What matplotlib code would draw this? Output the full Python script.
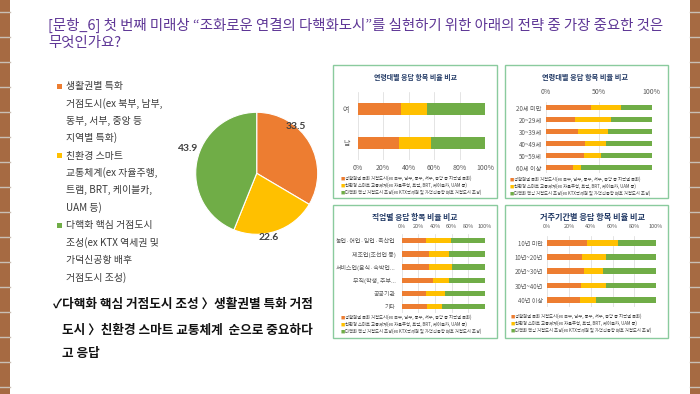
import numpy as np
import matplotlib
matplotlib.use('Agg')
import matplotlib.pyplot as plt
from matplotlib.patches import Rectangle

plt.rcParams['font.family'] = ['Noto Sans CJK KR', 'DejaVu Sans']

# ---------------- data ----------------
pie_values = [33.5, 22.6, 43.9]
pie_labels = ['33.5', '22.6', '43.9']

series_names = [
    '생활권별 특화 거점도시(ex 북부, 남부, 동부, 서부, 중앙 등 지역별 특화)',
    '친환경 스마트 교통체계(ex 자율주행, 트램, BRT, 케이블카, UAM 등)',
    '다핵화 핵심 거점도시 조성(ex KTX역세권 및 가덕신공항 배후 거점도시 조성)',
]
left_legend_lines = [
    ['생활권별 특화', '거점도시(ex 북부, 남부,', '동부, 서부, 중앙 등', '지역별 특화)'],
    ['친환경 스마트', '교통체계(ex 자율주행,', '트램, BRT, 케이블카,', 'UAM 등)'],
    ['다핵화 핵심 거점도시', '조성(ex KTX 역세권 및', '가덕신공항 배후', '거점도시 조성)'],
]

gender_cats = ['여', '남']
gender_a = [33.8, 32.5]
gender_b = [20.4, 25.1]
gender_c = [45.8, 42.4]

age_cats = ['20세 미만', '20~29세', '30~39세', '40~49세', '50~59세', '60세 이상']
age_a = [42.8, 27.4, 30.5, 37.0, 36.0, 25.8]
age_b = [28.6, 34.6, 28.0, 19.6, 16.0, 7.5]
age_c = [28.6, 38.0, 41.5, 43.4, 48.0, 66.7]

job_cats = ['농업·어업·임업·축산업', '제조업(조선업 등)', '서비스업(음식·숙박업...',
            '무직(학생, 주부...', '공공기관', '기타']
job_a = [29.2, 33.2, 33.2, 37.2, 29.2, 30.0]
job_b = [29.6, 24.0, 26.8, 19.6, 22.8, 18.8]
job_c = [41.2, 42.8, 40.0, 43.2, 48.0, 51.2]

res_cats = ['10년 미만', '10년~20년', '20년~30년', '30년~40년', '40년 이상']
res_a = [36.2, 31.9, 33.7, 31.3, 30.0]
res_b = [28.5, 22.4, 17.8, 22.4, 14.5]
res_c = [35.3, 45.7, 48.5, 46.3, 55.5]

title_lines = ['[문항_6] 첫 번째 미래상 “조화로운 연결의 다핵화도시”를 실현하기 위한 아래의 전략 중 가장 중요한 것은',
               '무엇인가요?']
summary_lines = ['✓다핵화 핵심 거점도시 조성 〉생활권별 특화 거점',
                 '도시 〉친환경 스마트 교통체계  순으로 중요하다',
                 '고 응답']

# ---------------- style ----------------
ORANGE, YELLOW, GREEN = '#ED7D31', '#FFC000', '#70AD47'
COLORS = [ORANGE, YELLOW, GREEN]
PANEL_EDGE = '#8ACB9E'
TITLE_BLUE = '#203864'
GRAY = '#595959'

W, H = 700, 394
fig = plt.figure(figsize=(7.0, 3.94), dpi=100)
fig.patch.set_facecolor('white')


def box(x0, y0, x1, y1):
    return [x0 / W, 1 - y1 / H, (x1 - x0) / W, (y1 - y0) / H]


def ftext(x, y, s, **kw):
    return fig.text(x / W, 1 - y / H, s, **kw)


# brick borders
for bx in (0, 690):
    fig.patches.append(Rectangle((bx / W, 0), 10 / W, 1, transform=fig.transFigure,
                                 facecolor='#A66A42', edgecolor='none', zorder=0))
    for yy in np.arange(12, H, 25):
        fig.lines.append(plt.Line2D([bx / W, (bx + 10) / W], [1 - yy / H, 1 - yy / H],
                                    transform=fig.transFigure, color='#C9BFB5', lw=1.0))

# title
for i, line in enumerate(title_lines):
    ftext(48, 25 + i * 17.5, line, fontsize=10.4, fontweight='medium', color='#5E3696',
          va='center', ha='left')

# left legend
leg_y = 86
for k, lines in enumerate(left_legend_lines):
    fig.patches.append(Rectangle(((57) / W, 1 - (leg_y + 2.5) / H), 5 / W, 5 / H,
                                 transform=fig.transFigure, facecolor=COLORS[k], edgecolor='none'))
    for j, ln in enumerate(lines):
        ftext(66, leg_y + j * 17.3, ln, fontsize=7.1, fontweight='medium', color='#3A3A3A',
              va='center', ha='left')
    leg_y += 4 * 17.3 + 0.5

# pie
cx, cy, r = 256.7, 173.3, 61
axp = fig.add_axes(box(cx - r, cy - r, cx + r, cy + r))
axp.pie(pie_values, colors=COLORS, startangle=90, counterclock=False,
        wedgeprops=dict(edgecolor='white', linewidth=0.8), radius=1.0)
axp.set_xlim(-1, 1)
axp.set_ylim(-1, 1)
axp.set_aspect('equal')
axp.axis('off')
label_polar = [(50, 1.0), (-79, 1.07), (160, 1.2)]
for lab, (ang, rr) in zip(pie_labels, label_polar):
    t = np.deg2rad(ang)
    axp.text(rr * np.cos(t), rr * np.sin(t), lab, ha='center', va='center',
             fontsize=7.4, fontweight='bold', color='#404040', family=['Lato', 'DejaVu Sans'],
             clip_on=False)

# summary text
for (x, y), line in zip([(53, 304), (62, 330), (62, 353)], summary_lines):
    ftext(x, y, line, fontsize=9.1, fontweight='bold', color='#111111', va='center')


# panels
def panel_frame(x0, y0, x1, y1):
    fig.patches.append(Rectangle((x0 / W, 1 - y1 / H), (x1 - x0) / W, (y1 - y0) / H,
                                 transform=fig.transFigure, facecolor='white',
                                 edgecolor=PANEL_EDGE, linewidth=1.0, zorder=1))


def bar_panel(px, cats, a, b, c, ticks, top, tick_fs, lab_fs, bar_h, tick_pad, lab_pad):
    ax = fig.add_axes(box(*px))
    ax.set_zorder(3)
    y = np.arange(len(cats))
    a = np.array(a); b = np.array(b); c = np.array(c)
    ax.barh(y, a, height=bar_h, color=ORANGE, zorder=2)
    ax.barh(y, b, left=a, height=bar_h, color=YELLOW, zorder=2)
    ax.barh(y, c, left=a + b, height=bar_h, color=GREEN, zorder=2)
    ax.set_xlim(0, 100)
    ax.set_ylim(len(cats) - 0.5, -0.5)
    ax.set_yticks(y, cats)
    ax.set_xticks(ticks, [f'{t}%' for t in ticks])
    if top:
        ax.xaxis.tick_top()
    for s in ax.spines.values():
        s.set_visible(False)
    ax.tick_params(axis='x', length=0, labelsize=tick_fs, labelcolor=GRAY, pad=tick_pad)
    ax.tick_params(axis='y', length=0, labelsize=lab_fs, labelcolor=GRAY, pad=lab_pad)
    ax.grid(axis='x', color='#D9D9D9', linewidth=0.5)
    ax.set_axisbelow(True)
    ax.patch.set_alpha(0)
    return ax


def panel_legend(x, ys, fs=3.1):
    for k, yy in enumerate(ys):
        ftext(x, yy, '■', fontsize=fs, color=COLORS[k], va='center', ha='left', zorder=4)
        ftext(x + 4, yy, series_names[k], fontsize=fs, color='#404040', va='center', ha='left', zorder=4)


# panel 1
panel_frame(333, 65, 497, 198)
ftext(415, 77, '연령대별 응답 항목 비율 비교', fontsize=5.0, fontweight='bold', color=TITLE_BLUE,
      ha='center', va='center', zorder=4)
bar_panel((357.7, 92, 485, 160), gender_cats, gender_a, gender_b, gender_c,
          [0, 20, 40, 60, 80, 100], False, 5.0, 5.0, 0.38, 3.0, 6.0)
panel_legend(341, [178, 185, 192])

# panel 2
panel_frame(505, 65, 668, 198)
ftext(585, 77, '연령대별 응답 항목 비율 비교', fontsize=5.2, fontweight='bold', color=TITLE_BLUE,
      ha='center', va='center', zorder=4)
bar_panel((545.7, 101.8, 651.7, 173.3), age_cats, age_a, age_b, age_c,
          [0, 50, 100], True, 5.0, 4.5, 0.45, 4.0, 2.7)
panel_legend(510, [179, 186, 193])

# panel 3
panel_frame(333, 205, 497, 338)
ftext(415, 217, '직업별 응답 항목 비율 비교', fontsize=5.6, fontweight='bold', color=TITLE_BLUE,
      ha='center', va='center', zorder=4)
bar_panel((401.7, 234.1, 485, 313.3), job_cats, job_a, job_b, job_c,
          [0, 20, 40, 60, 80, 100], True, 4.0, 4.3, 0.4, 4.0, 4.3)
panel_legend(341, [317, 324, 331])

# panel 4
panel_frame(505, 205, 668, 338)
ftext(593, 217, '거주기간별 응답 항목 비율 비교', fontsize=5.9, fontweight='bold', color=TITLE_BLUE,
      ha='center', va='center', zorder=4)
bar_panel((547.3, 235.5, 656, 307), res_cats, res_a, res_b, res_c,
          [0, 20, 40, 60, 80, 100], True, 4.0, 4.4, 0.4, 4.5, 3.3)
panel_legend(511, [316, 323, 330])

fig.savefig('out.png', dpi=100)
